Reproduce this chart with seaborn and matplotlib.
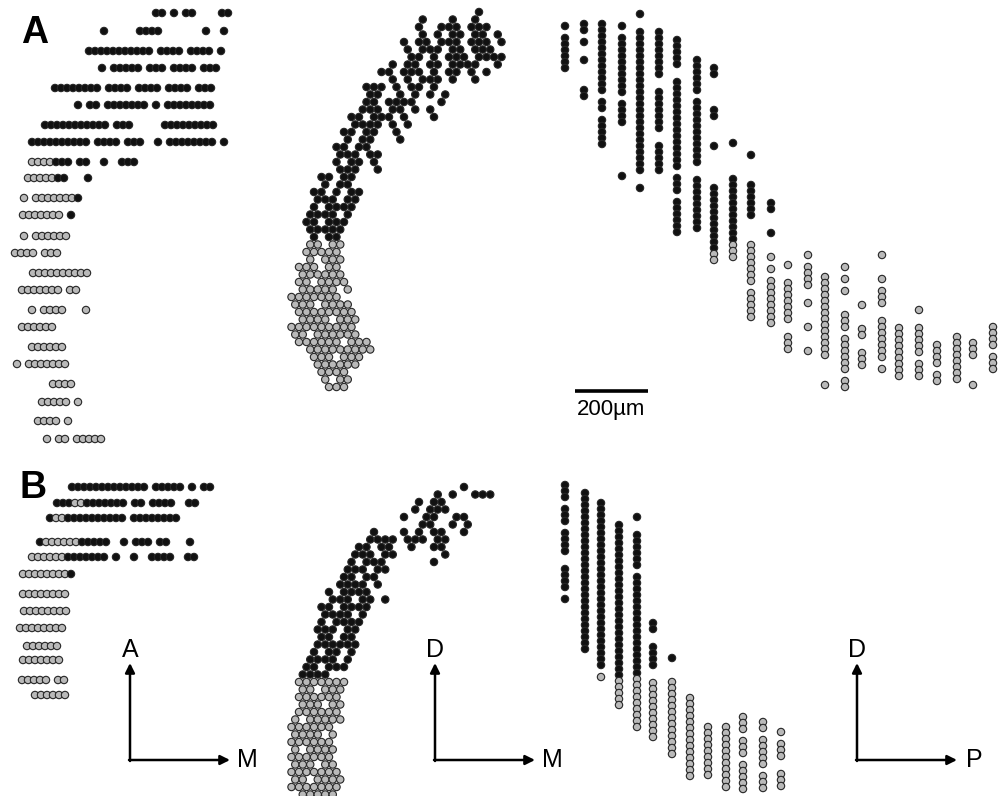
import numpy as np
import matplotlib.pyplot as plt
import seaborn as sns
import pandas as pd

# '#' = black cell, 'o' = grey cell, anything else = no cell

# ---- A, horizontal view: rows (y, first x, pattern along x) ----
a_h_y = [13, 31, 51, 68, 88, 105, 125, 142, 162, 178, 198, 215,
         236, 253, 273, 290, 310, 327, 347, 364, 384, 402, 421, 439]
a_h_x0 = [156, 104, 89, 102, 55, 78, 45, 32, 32, 28, 24, 23,
          24, 15, 33, 22, 32, 22, 32, 17, 53, 42, 38, 47]
a_h_rows = [
    "##.#.##....##",
    "#.....####.......#..#",
    "###########.####.####.#",
    "#.#####.###.####.###",
    "########.####.####.####.###",
    "#.##.#######.#.########",
    "###########.###.....#########",
    "##########.####.###..#.########.#",
    "oooo###.##..#..###",
    "ooooo##...#",
    "o.ooooooo#",
    "ooooooo.#",
    "o.oooooo",
    "oooo.ooo",
    "oooooooooo",
    "ooooooo.oo",
    "o.oooo...o",
    "oooooo",
    "oooooo",
    "o.ooooooo",
    "oooo",
    "ooooo.o",
    "oooo.o",
    "o.oo.ooooo",
]

# ---- B, horizontal view ----
b_h_y = [487, 503, 518, 542, 557, 574, 594, 611, 628, 646, 660, 680, 695]
b_h_x0 = [72, 57, 50, 40, 32, 23, 23, 24, 20, 27, 23, 22, 35]
b_h_rows = [
    "#############.#####.#.##",
    "###oo#######.##.####..##",
    "#oo##########.########",
    "#oooooo#####..#.###.##...#",
    "oooooo#######.#..#..####..##",
    "oooooooo#",
    "oooooooo",
    "oooooooo",
    "oooooooo",
    "oooooo",
    "ooooooo",
    "ooooo.oo",
    "oooooo",
]

# ---- A, sagittal view: columns (x, first y, pattern along y) ----
a_v_x = [565, 584, 602, 622, 640, 659, 677, 697, 714, 733, 751, 771,
         788, 808, 825, 845, 862, 882, 899, 919, 937, 957, 973, 993]
a_v_y0 = [26, 24, 24, 26, 14, 32, 40, 60, 68, 143, 155, 203,
          265, 255, 277, 267, 305, 255, 328, 310, 345, 337, 343, 327]
a_v_cols = [
    "#.######",
    "##.#..#....##",
    "############.##.#####",
    "#.##########.####........#",
    "#..########################..#",
    "########..#######..#####",
    "#####..###############.###.######",
    "######.###########..#########",
    "##.....##....#......###########oo",
    "#.....###########ooo",
    "#....######....ooooooo.ooooo",
    "##...#...o.o.oooooooo",
    "o..ooooooo..ooo",
    "o.oooo..o...o...o",
    "oooooooooooooo....o",
    "o.o.o...ooo.oooooo.oo",
    "o...oo..ooo",
    "o...o.ooo..ooooooo.o",
    "ooooooooo",
    "o..ooooo.ooo",
    "oooo.oo",
    "oooooooo",
    "ooo....o",
    "oooo.ooo",
]

# ---- B, sagittal view ----
b_v_x = [565, 585, 601, 619, 637, 653, 672, 690, 708, 726, 743, 763, 781]
b_v_y0 = [485, 493, 503, 525, 517, 623, 658, 698, 727, 727, 717, 722, 732]
b_v_cols = [
    "###.###.####..####.#",
    "###########################",
    "############################.o",
    "##########################ooooo",
    "#..######.#################ooooooooo",
    "##..####..oooooooooo",
    "#...ooooooooooooo",
    "oooooooooooooo",
    "ooooooooo",
    "ooooooooooo",
    "ooo.ooo.ooooo",
    "oo.ooooo.ooo",
    "o.ooo..ooo",
]

# ---- A, coronal view: staggered grid rows (first column, pattern) ----
a_c_start = [26, 18, 18, 18, 16, 16, 17, 14, 13, 14, 11, 11, 11, 10, 9, 9, 8,
             8, 7, 7, 7, 7, 5, 5, 4, 4, 4, 3, 3, 3, 4, 3, 3, 3, 2, 2, 2, 2,
             1, 1, 2, 2, 1, 1, 2, 3, 4, 4, 5, 5, 6]
a_c_rows = [
    "#", "#...#..#", "#..###.###", "#.#.##.##.#", "#.##.###.###.#",
    "#.###.##.###", "##.#.###.####", "#.##.##.####..#", "##.###.#.##.#.#",
    "#.#.###.#..#", "###.#.##.#", "##..#.#.#.#", "##.####...#",
    "###.##.#.#", "##.###.#...#", "####.#.#", "##.##..#", "#.##...#",
    "##.##", "###.##", "#.##.#", "###..#", "##.##", "#.##", "##.#.##",
    "###.##", "#.####", "####.#", "##.###", "#####", "#.##",
    "oo.oo", "ooooo", "o.ooo", "ooo.oo", "oooooo", "oo.oooo", "ooooo.o",
    "ooooooo", "ooo.oooo", "oooooooo", "oooo.ooo", "ooooooooo", "oo.oooooo",
    "oooooo.ooo", "ooooooooo", "ooo.ooo", "oooooo", "oooo", "o.oo", "ooo",
]

# ---- B, coronal view ----
b_c_start = [24, 20, 18, 17, 16, 18, 12, 11, 10, 9, 9, 8, 8, 7, 6, 6, 5, 5,
             5, 4, 5, 4, 4, 3, 3, 2, 2, 2, 2, 2, 2, 1, 1, 1, 1, 1, 1, 1, 1,
             1, 1, 2]
b_c_rows = [
    "#", "#.#..###", "#.##", "#.###", "#..##..##", "##..#.#",
    "#...#.#.##..#", "####.###.##", "##.##..#..##", "###.##......#",
    "#.###......#", "###.##", "##.##", "####.#", "#.####", "###.##.#",
    "##.####", "####.#", "#.####", "###.##", "##.##", "######", "#.##.#",
    "####.#", "##.###", "####",
    "ooooooo", "oo.ooo", "oooooo", "ooo.oo", "oooooo", "o.ooooo",
    "oooooo", "oooo.o", "oooooo", "o.oooo", "oooooo", "ooo.oo",
    "ooooooo", "oo.oooo", "ooooooo", "ooooo",
]

kind_of = {"#": "black", "o": "grey"}


def rows_to_dots(ys, x0s, patterns, pitch=6.0):
    out = []
    for y, x0, pat in zip(ys, x0s, patterns):
        for i, ch in enumerate(pat):
            if ch in kind_of:
                out.append((x0 + i * pitch, y, kind_of[ch]))
    return out


def cols_to_dots(xs, y0s, patterns, pitch=6.0):
    out = []
    for x, y0, pat in zip(xs, y0s, patterns):
        for i, ch in enumerate(pat):
            if ch in kind_of:
                out.append((x, y0 + i * pitch, kind_of[ch]))
    return out


def grid_to_dots(starts, patterns, x0, y0, step=7.5):
    out = []
    for r, (c0, pat) in enumerate(zip(starts, patterns)):
        shift = step / 2 if r % 2 else 0.0
        for i, ch in enumerate(pat):
            if ch in kind_of:
                out.append((x0 + (c0 + i) * step + shift, y0 + r * step, kind_of[ch]))
    return out


dots = (rows_to_dots(a_h_y, a_h_x0, a_h_rows)
        + rows_to_dots(b_h_y, b_h_x0, b_h_rows)
        + cols_to_dots(a_v_x, a_v_y0, a_v_cols)
        + cols_to_dots(b_v_x, b_v_y0, b_v_cols)
        + grid_to_dots(a_c_start, a_c_rows, 284, 12)
        + grid_to_dots(b_c_start, b_c_rows, 284, 487))
df = pd.DataFrame(dots, columns=["x", "y", "kind"])

sns.set_style("white")
plt.rcParams["font.family"] = ["Liberation Sans", "DejaVu Sans"]
plt.rcParams["text.color"] = "black"

fig = plt.figure(figsize=(10.02, 7.96), dpi=100)
ax = fig.add_axes([0, 0, 1, 1])
sns.scatterplot(data=df, x="x", y="y", hue="kind",
                palette={"black": "#111111", "grey": "#b9b9b9"},
                edgecolor="#262626", linewidth=0.8, s=28, legend=False, ax=ax)
ax.set_xlim(0, 1002)
ax.set_ylim(796, 0)
ax.axis("off")

# panel letters
ax.text(35, 33, "A", fontsize=27, fontweight="bold", ha="center", va="center")
ax.text(33, 488, "B", fontsize=27, fontweight="bold", ha="center", va="center")

# scale bar
ax.plot([575, 648], [391, 391], color="black", lw=2.6, solid_capstyle="butt")
ax.text(611, 409, "200\u00b5m", fontsize=16, ha="center", va="center")

# orientation arrows
for cx, up, right in [(130, "A", "M"), (435, "D", "M"), (857, "D", "P")]:
    cy = 760
    arrow = dict(arrowstyle="-|>", lw=1.8, color="black", mutation_scale=14,
                 shrinkA=0, shrinkB=0)
    ax.annotate("", xy=(cx, 663), xytext=(cx, cy + 1), arrowprops=arrow)
    ax.annotate("", xy=(cx + 100, cy), xytext=(cx - 1, cy), arrowprops=arrow)
    ax.text(cx, 650, up, fontsize=18, ha="center", va="center")
    ax.text(cx + 117, cy, right, fontsize=18, ha="center", va="center")

fig.savefig("out.png", dpi=100, facecolor="white")
